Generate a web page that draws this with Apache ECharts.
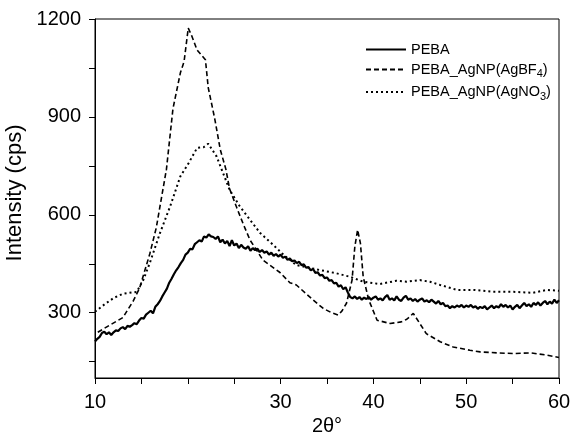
<!DOCTYPE html>
<html>
<head>
<meta charset="utf-8">
<script src="https://cdn.jsdelivr.net/npm/echarts@6/dist/echarts.min.js"></script>
<style>
  html, body { margin: 0; padding: 0; background: #fff; }
  #main { width: 573px; height: 438px; }
</style>
</head>
<body>
<div id="main"></div>
<script>
// PEBA, sampled every 0.25 degree from 10 to 60 (one row per degree)
var pebaStart = 10;
var pebaStep = 0.25;
var pebaValues = [
  212, 220, 226, 238,   242, 234, 240, 232,   240, 246, 244, 252,
  256, 250, 260, 257,   262, 268, 265, 276,   284, 282, 294, 300,
  306, 298, 318, 326,   336, 350, 362, 374,   392, 404, 418, 430,
  440, 452, 462, 478,   484, 496, 494, 510,   516, 522, 518, 534,
  530, 540, 534, 532,   526, 534, 516, 524,   512, 520, 504, 522,
  506, 512, 498, 508,   500, 496, 504, 490,   498, 492, 496, 486,
  492, 484, 488, 478,   484, 474, 480, 472,   478, 468, 472, 462,
  466, 458, 460, 452,   456, 446, 448, 438,   440, 430, 434, 422,
  424, 414, 416, 406,   408, 398, 400, 390,   392, 380, 384, 372,
  378, 362, 348, 344,   350, 342, 348, 340,   346, 342, 348, 340,
  346, 350, 340, 344,   338, 348, 354, 340,   344, 338, 350, 340,
  336, 346, 352, 340,   344, 336, 342, 334,   340, 344, 334, 338,
  332, 340, 334, 328,   336, 326, 330, 320,   322, 314, 320, 316,
  322, 318, 324, 316,   322, 318, 324, 316,   320, 312, 318, 314,
  320, 310, 316, 322,   314, 320, 316, 326,   318, 324, 316, 322,
  310, 318, 324, 314,   322, 330, 320, 326,   318, 330, 324, 332,
  322, 330, 336, 326,   334, 328, 340, 330,   338
];

// PEBA_AgNP(AgBF4): [2theta, intensity]
var bf4Points = [
  [10.3, 240], [11.0, 252], [11.6, 262], [13.0, 285], [14.1, 335], [14.8, 375],
  [15.9, 480], [16.6, 560], [17.7, 740], [18.4, 925], [19.2, 1035], [19.6, 1070],
  [20.05, 1172], [20.4, 1150], [21.0, 1105], [21.9, 1075], [22.2, 990], [22.9, 895],
  [23.5, 800], [24.1, 740], [24.5, 680], [25.3, 620], [26.0, 570], [26.7, 523],
  [28.1, 461], [29.9, 424], [31.0, 392], [31.7, 385], [33.5, 339], [34.6, 313],
  [35.5, 300], [36.2, 293], [36.6, 305], [37.1, 329], [37.7, 400], [38.0, 503],
  [38.3, 554], [38.6, 513], [38.9, 410], [39.5, 339], [40.4, 277], [41.8, 267],
  [43.0, 272], [43.6, 280], [44.3, 298], [45.0, 267], [45.7, 236], [47.2, 211],
  [48.6, 195], [50.4, 185], [51.5, 180], [53.3, 177], [55.1, 175], [56.9, 177],
  [58.7, 170], [60.0, 163]
];

// PEBA_AgNP(AgNO3): [2theta, intensity]
var no3Points = [
  [10.0, 303], [11.0, 325], [12.0, 345], [13.0, 358], [14.5, 364], [15.2, 400],
  [15.9, 452], [17.0, 544], [18.1, 626], [19.2, 718], [20.1, 759], [21.0, 805],
  [21.7, 807], [22.2, 818], [23.1, 779], [23.8, 728], [24.5, 677], [25.6, 626],
  [26.7, 585], [27.8, 544], [29.2, 508], [30.3, 478], [31.7, 446], [34.2, 431],
  [36.0, 421], [37.5, 410], [38.9, 395], [40.7, 388], [42.5, 398], [43.6, 395],
  [45.0, 400], [46.1, 395], [47.2, 385], [49.0, 370], [50.8, 370], [52.9, 364],
  [55.1, 364], [57.2, 361], [58.7, 370], [60.0, 367]
];

var xLabelValues = [10, 30, 40, 50, 60];
var xTickValues = [10, 15, 20, 25, 30, 35, 40, 45, 50, 55, 60];
var yLabelValues = [300, 600, 900, 1200];
var yTickValues = [150, 300, 450, 600, 750, 900, 1050, 1200];

var pebaPoints = pebaValues.map(function (v, i) {
  return [pebaStart + i * pebaStep, v];
});

var font = 'Liberation Sans, Arial, sans-serif';
var myChart = echarts.init(document.getElementById('main'));

var option = {
  animation: false,
  backgroundColor: '#fff',
  grid: {
    left: 95, right: 14, top: 19, bottom: 60,
    outerBoundsMode: 'none',
    containLabel: false,
    show: true, borderColor: '#000', borderWidth: 1
  },
  legend: {
    orient: 'vertical',
    left: 360,
    top: 37,
    itemWidth: 40,
    itemHeight: 12,
    itemGap: 5,
    itemStyle: { opacity: 0 },
    textStyle: {
      fontFamily: font, fontSize: 14.5, color: '#000',
      rich: {
        n: { fontFamily: font, fontSize: 14.5, color: '#000' },
        s: { fontFamily: font, fontSize: 11, color: '#000', padding: [9, 0, 0, 0] }
      }
    },
    data: ['PEBA', 'BF4', 'NO3'],
    formatter: function (name) {
      if (name === 'BF4') return '{n|PEBA_AgNP(AgBF}{s|4}{n|)}';
      if (name === 'NO3') return '{n|PEBA_AgNP(AgNO}{s|3}{n|)}';
      return name;
    }
  },
  xAxis: {
    type: 'value',
    min: 10, max: 60,
    name: '2θ°',
    nameLocation: 'middle',
    nameGap: 37,
    nameTextStyle: { fontFamily: font, fontSize: 20, color: '#000' },
    axisLine: { lineStyle: { color: '#000', width: 1 } },
    axisTick: { show: true, length: 6, customValues: xTickValues, lineStyle: { color: '#000' } },
    axisLabel: { customValues: xLabelValues, fontFamily: font, fontSize: 20, color: '#000', margin: 14 },
    splitLine: { show: false }
  },
  yAxis: {
    type: 'value',
    min: 100, max: 1200,
    name: 'Intensity (cps)',
    nameLocation: 'middle',
    nameGap: 56,
    nameTextStyle: { fontFamily: font, fontSize: 22, color: '#000', padding: [0, 0, 0, 11] },
    axisLine: { show: true, lineStyle: { color: '#000', width: 1 } },
    axisTick: { show: true, length: 6, customValues: yTickValues, lineStyle: { color: '#000' } },
    axisLabel: {
      customValues: yLabelValues, fontFamily: font, fontSize: 20, color: '#000', margin: 14,
      formatter: function (v) { return String(v); }
    },
    splitLine: { show: false }
  },
  series: [
    {
      name: 'PEBA', type: 'line', data: pebaPoints,
      showSymbol: false, symbol: 'none',
      lineStyle: { color: '#000', width: 2.2, type: 'solid' },
      itemStyle: { color: '#000' }
    },
    {
      name: 'BF4', type: 'line', data: bf4Points,
      showSymbol: false, symbol: 'none',
      lineStyle: { color: '#000', width: 1.6, type: [5, 3] },
      itemStyle: { color: '#000' }
    },
    {
      name: 'NO3', type: 'line', data: no3Points,
      showSymbol: false, symbol: 'none',
      lineStyle: { color: '#000', width: 2, type: [2, 3] },
      itemStyle: { color: '#000' }
    }
  ]
};

myChart.setOption(option);
</script>
</body>
</html>
